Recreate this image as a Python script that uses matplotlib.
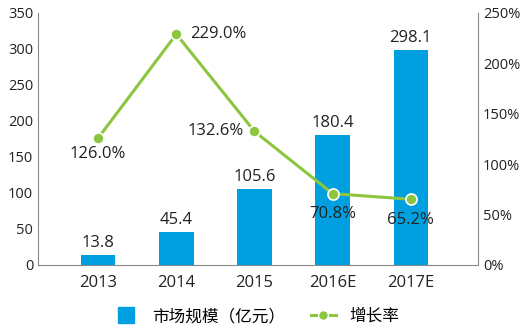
import matplotlib.pyplot as plt
from matplotlib.lines import Line2D

plt.rcParams['font.family'] = ['Open Sans', 'Noto Sans CJK SC', 'DejaVu Sans']

years = ["2013", "2014", "2015", "2016E", "2017E"]
market = [13.8, 45.4, 105.6, 180.4, 298.1]
growth = [126.0, 229.0, 132.6, 70.8, 65.2]

bar_color = "#00a0e0"
line_color = "#8cc63f"
grey = "#888888"

fig = plt.figure(figsize=(5.31, 3.33), dpi=100)
ax = fig.add_axes([38 / 531, 1 - 265 / 333, 440 / 531, 252 / 333])
ax2 = ax.twinx()

x = range(len(years))
ax.bar(x, market, width=0.44, color=bar_color, zorder=2)
ax.set_ylim(0, 350)
ax.set_xlim(-0.77, 4.86)
ax.set_yticks(range(0, 351, 50))
ax.set_xticks(list(x))
ax.set_xticklabels(years)
ax.tick_params(axis="y", length=0, labelsize=10.5, colors="#222222")
ax.tick_params(axis="x", length=0, labelsize=12, colors="#222222", pad=7)
for s in ["top", "right"]:
    ax.spines[s].set_visible(False)
ax.spines["left"].set_color(grey)
ax.spines["bottom"].set_color(grey)

for i, v in enumerate(market):
    ax.text(i, v + 6, f"{v:.1f}", ha="center", va="bottom", fontsize=12, color="#222222")

ax2.plot(x, growth, color=line_color, lw=2.2, marker="o", ms=8,
         markerfacecolor=line_color, markeredgecolor="white", markeredgewidth=1.2, zorder=3)
ax2.set_ylim(0, 250)
ax2.set_yticks(range(0, 251, 50))
ax2.set_yticklabels([f"{t}%" for t in range(0, 251, 50)])
ax2.tick_params(axis="y", length=0, labelsize=10.5, colors="#222222")
for s in ["top", "left", "bottom"]:
    ax2.spines[s].set_visible(False)
ax2.spines["right"].set_color(grey)

offsets = [(0, -6, "center", "top"), (10, 0, "left", "center"), (-8, 0, "right", "center"),
           (0, -9, "center", "top"), (0, -9, "center", "top")]
for i, (g, (dx, dy, ha, va)) in enumerate(zip(growth, offsets)):
    ax2.annotate(f"{g:.1f}%", (i, g), xytext=(dx, dy), textcoords="offset points",
                 ha=ha, va=va, fontsize=12, color="#222222")

handles = [Line2D([0], [0], color=bar_color, marker="s", ms=11.5, linestyle="none"),
           Line2D([0], [0], color=line_color, lw=2.2, marker="o", ms=7,
                  markerfacecolor=line_color, markeredgecolor="white")]
fig.legend(handles, ["市场规模（亿元）", "增长率"], loc="center", bbox_to_anchor=(0.483, 0.048),
           ncol=2, frameon=False, fontsize=12, handlelength=1.45, handletextpad=0.8,
           columnspacing=1.6)

fig.savefig("out.png", dpi=100)
